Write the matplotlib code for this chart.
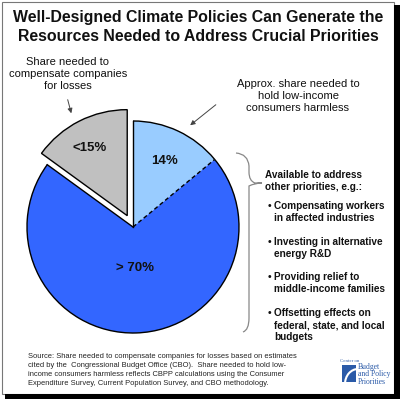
import numpy as np
import matplotlib
matplotlib.use("Agg")
import matplotlib.pyplot as plt
from matplotlib.patches import Arc, Rectangle, PathPatch
from matplotlib.path import Path

# data
shares = [15, 14, 71]
slice_labels = ["<15%", "14%", "> 70%"]
slice_colors = ["#c0c0c0", "#99ccff", "#3366ff"]
explode = [0.12, 0, 0]

title_lines = "Well-Designed Climate Policies Can Generate the\nResources Needed to Address Crucial Priorities"
left_note = "Share needed to\ncompensate companies\nfor losses"
right_note = "Approx. share needed to\nhold low-income\nconsumers harmless"
brace_head = "Available to address\nother priorities, e.g.:"
bullets = ["Compensating workers\nin affected industries",
           "Investing in alternative\nenergy R&D",
           "Providing relief to\nmiddle-income families",
           "Offsetting effects on\nfederal, state, and local\nbudgets"]
source = ("Source: Share needed to compensate companies for losses based on estimates\n"
          "cited by the  Congressional Budget Office (CBO).  Share needed to hold low-\n"
          "income consumers harmless reflects CBPP calculations using the Consumer\n"
          "Expenditure Survey, Current Population Survey, and CBO methodology.")

W, H = 400, 399
fig = plt.figure(figsize=(W / 100, H / 100), dpi=100)
fig.patch.set_facecolor("white")

# pie, radius 106 px centred at (133, 227)
cx, cy, r = 133, 227, 106
side = 2.5 * r
ax = fig.add_axes([(cx - side / 2) / W, (H - cy - side / 2) / H, side / W, side / H])
ax.set_xlim(-1.25, 1.25)
ax.set_ylim(-1.25, 1.25)
ax.axis("off")
wedges, _ = ax.pie(shares, colors=slice_colors, explode=explode, startangle=144,
                   counterclock=False, radius=1, wedgeprops=dict(lw=0))

g, lb, b = wedges
g.set_edgecolor("black")
g.set_linewidth(1)
for w in (lb, b):
    ax.add_patch(Arc(w.center, 2, 2, theta1=w.theta1, theta2=w.theta2, color="black", lw=1))

def spoke(angle, dashed=False):
    a = np.deg2rad(angle)
    line, = ax.plot([0, np.cos(a)], [0, np.sin(a)], color="black", lw=1)
    if dashed:
        line.set_dashes((3, 2))

spoke(lb.theta2)
spoke(b.theta1)
spoke(lb.theta1, dashed=True)

# overlay axes in pixel coordinates, drawn above the pie
bg = fig.add_axes([0, 0, 1, 1])
bg.set_xlim(0, W)
bg.set_ylim(H, 0)
bg.axis("off")
bg.patch.set_alpha(0)

# frame with shadow
bg.add_patch(Rectangle((1.5, 1.5), 392, 392, fill=False, ec="#777777", lw=0.8))
bg.add_patch(Rectangle((394, 5), 6, H - 5, color="black", lw=0))
bg.add_patch(Rectangle((5, 394), W - 5, 5, color="black", lw=0))

bg.text(198, 27, title_lines, ha="center", va="center", fontsize=11.4,
        fontweight="bold", family="Liberation Sans",
        linespacing=1.35, color="#111111")

label_pos = [(90, 148), (165, 161), (135, 268)]
for (x, y), t in zip(label_pos, slice_labels):
    bg.text(x, y, t, ha="center", va="center", fontsize=9.5, fontweight="bold",
            family="Liberation Sans", color="#111111")

small = dict(family="Liberation Sans", color="#111111")
bg.text(68, 74, left_note, ha="center", va="center", fontsize=8, linespacing=1.2, **small)
bg.text(298, 96, right_note, ha="center", va="center", fontsize=8, linespacing=1.2, **small)

arrow = dict(arrowstyle="-|>", color="#444444", lw=0.7, mutation_scale=7)
bg.annotate("", xy=(72, 116), xytext=(67, 97), arrowprops=arrow)
bg.annotate("", xy=(188, 127), xytext=(218, 103), arrowprops=arrow)

# curly brace
verts = [(236, 153), (248, 154), (249, 166), (249, 172),
         (249, 181), (255, 183), (262, 183),
         (255, 183), (249, 186), (249, 195),
         (249, 318), (249, 330), (243, 332)]
codes = [Path.MOVETO, Path.CURVE3, Path.CURVE3, Path.LINETO,
         Path.CURVE3, Path.CURVE3, Path.LINETO,
         Path.CURVE3, Path.CURVE3, Path.LINETO,
         Path.LINETO, Path.CURVE3, Path.CURVE3]
bg.add_patch(PathPatch(Path(verts, codes), fill=False, ec="#888888", lw=0.9))

bold_small = dict(family="Liberation Sans", fontweight="bold", fontsize=7.2,
                  color="#111111", linespacing=1.25, va="top")
bg.text(265, 170, brace_head, ha="left", **bold_small)
bullet_y = [201, 237, 272, 308]
for y, t in zip(bullet_y, bullets):
    bg.text(268, y, "\u2022", ha="left", **bold_small)
    bg.text(274, y, t, ha="left", **bold_small)

bg.text(28, 370, source, ha="left", va="center", fontsize=5.4, linespacing=1.35,
        family="Liberation Sans", color="#222222")

# logo
logo_blue = "#2a5aa8"
bg.add_patch(Rectangle((342, 365), 14, 17, color=logo_blue, lw=0))
bg.add_patch(Arc((358, 384), 26, 30, theta1=180, theta2=270, color="white", lw=1.5))
bg.text(340, 361, "Center on", fontsize=3.5, family="Liberation Serif", color=logo_blue, va="center")
bg.text(358, 367, "Budget", fontsize=5.5, family="Liberation Serif", color=logo_blue, va="center")
bg.text(358, 374, "and Policy", fontsize=5.5, family="Liberation Serif", color=logo_blue, va="center")
bg.text(358, 382, "Priorities", fontsize=5.5, family="Liberation Serif", color=logo_blue, va="center")

fig.savefig("out.png", dpi=100, facecolor="white")
